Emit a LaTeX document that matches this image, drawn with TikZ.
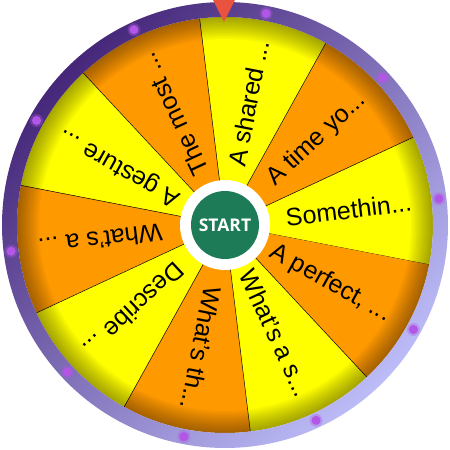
\documentclass[tikz,border=0pt]{standalone}
\usepackage{fontspec}
\setmainfont{Liberation Sans}
\newfontfamily\startfont{Open Sans}
\usepackage{xcolor}
\usepackage{tikz}

\definecolor{wedgeyellow}{HTML}{FFFF00}
\definecolor{wedgeorange}{HTML}{FF9900}
\definecolor{ringdark}{HTML}{46277A}
\definecolor{ringmid}{HTML}{5A3F8E}
\definecolor{ringlight}{HTML}{BCBCF8}
\definecolor{dotpink}{HTML}{B256E6}
\definecolor{startgreen}{HTML}{1E7B57}
\definecolor{pointerred}{HTML}{E8523F}

\newcommand{\wdots}{...}

\tikzset{
  wedgetext/.style={anchor=east, inner sep=0pt, font=\fontsize{25}{28}\selectfont},
  divider/.style={black, line width=0.5pt},
}

\begin{document}
\begin{tikzpicture}[x=1pt,y=1pt]
\useasboundingbox (-225,-225) rectangle (225,225);

% wedges
\foreach \a/\c in {7/wedgeyellow, 43/wedgeorange, 79/wedgeyellow, 115/wedgeorange,
  151/wedgeyellow, 187/wedgeorange, 223/wedgeyellow, 259/wedgeorange,
  295/wedgeyellow, 331/wedgeorange}
{
  \fill[\c] (0,0) -- (\a-18:208) arc[start angle=\a-18, end angle=\a+18, radius=208] -- cycle;
  \draw[divider] (0,0) -- (\a-18:208);
}

% darker rim of the wedges
\foreach \r in {186,188,...,206}
  \fill[black, opacity=0.035, even odd rule] (0,0) circle (\r) circle (208);

\foreach \a/\txt [count=\i] in {7/Somethin\wdots, 43/A time yo\wdots, 79/A shared \wdots,
  115/The most \wdots, 151/A gesture \wdots, 187/What’s a \wdots, 223/Describe \wdots,
  259/What’s th\wdots, 295/What’s a s\wdots, {331/A perfect, \wdots}}
  \node[wedgetext, rotate=\a] (seg\i) at (\a:188) {\txt};

% outer ring
\shade[even odd rule, top color=ringdark, middle color=ringmid, bottom color=ringlight,
  shading angle=45] (0,0) circle (223) circle (208);

\foreach \a in {7,43,...,331} {
  \fill[dotpink, opacity=0.35] (\a:215.5) circle (6.5);
  \fill[dotpink] (\a:215.5) circle (4.5);
}

% hub
\node[circle, fill=white, minimum size=90, inner sep=0pt] (hub) at (0,0) {};
\node[circle, fill=startgreen, minimum size=68, inner sep=0pt, text=white,
  font=\startfont\bfseries\fontsize{17.5}{20}\selectfont] (start) at (hub) {START};

% pointer
\fill[pointerred] (-12,225) -- (10,225) -- (-1,203) -- cycle;

\end{tikzpicture}
\end{document}
